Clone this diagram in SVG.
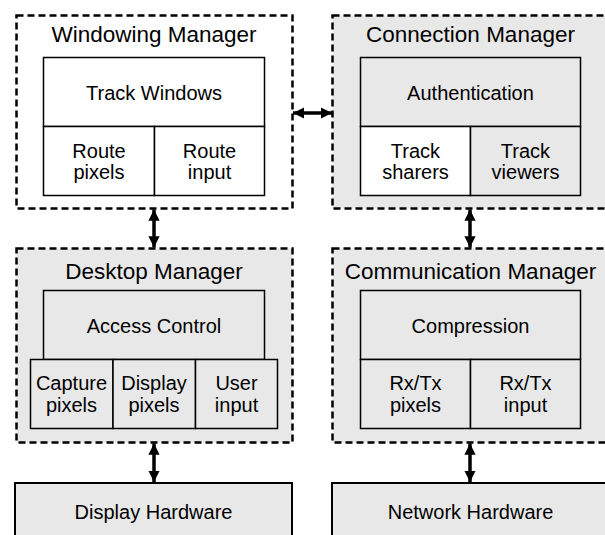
<svg xmlns="http://www.w3.org/2000/svg" width="605" height="535" viewBox="0 0 605 535">
<defs>
<style>
.mgr{stroke:#000;stroke-width:2.5;stroke-dasharray:7,4}
.box{stroke:#000;stroke-width:1.5}
.hw{stroke:#000;stroke-width:2}
.g{fill:#e8e8e8}
.w{fill:#fff}
.t{font-family:"Liberation Sans",Arial,sans-serif;fill:#000;text-anchor:middle}
.title{font-size:22.5px}
.lbl{font-size:20px}
.conn{stroke:#000;stroke-width:3.5;fill:none}
</style>
<marker id="ah" viewBox="0 0 10 10" refX="10" refY="5" markerWidth="3.2" markerHeight="3.2" orient="auto-start-reverse" markerUnits="strokeWidth">
<path d="M0,0 L10,5 L0,10 Z" fill="#000"/>
</marker>
</defs>
<rect width="605" height="535" fill="#fff"/>

<g id="windowing-manager">
<rect class="mgr w" x="16.5" y="15.5" width="276" height="193"/>
<text class="t title" x="154" y="42">Windowing Manager</text>
<rect class="box w" x="43.5" y="57.5" width="221" height="69"/>
<text class="t lbl" x="154" y="100">Track Windows</text>
<rect class="box w" x="43.5" y="126.5" width="111" height="69"/>
<rect class="box w" x="154.5" y="126.5" width="110" height="69"/>
<text class="t lbl" x="99" y="158">Route</text>
<text class="t lbl" x="99" y="179">pixels</text>
<text class="t lbl" x="209.5" y="158">Route</text>
<text class="t lbl" x="209.5" y="179">input</text>
</g>

<g id="connection-manager">
<rect class="mgr g" x="332.5" y="15.5" width="276" height="193"/>
<text class="t title" x="470.5" y="42">Connection Manager</text>
<rect class="box g" x="360.5" y="57.5" width="220" height="69"/>
<text class="t lbl" x="470.5" y="100">Authentication</text>
<rect class="box w" x="360.5" y="126.5" width="110" height="69"/>
<rect class="box g" x="470.5" y="126.5" width="110" height="69"/>
<text class="t lbl" x="415.5" y="158">Track</text>
<text class="t lbl" x="415.5" y="179">sharers</text>
<text class="t lbl" x="525.5" y="158">Track</text>
<text class="t lbl" x="525.5" y="179">viewers</text>
</g>

<g id="desktop-manager">
<rect class="mgr g" x="16.5" y="248.5" width="276" height="194"/>
<text class="t title" x="154" y="279">Desktop Manager</text>
<rect class="box g" x="43.5" y="290.5" width="221" height="69"/>
<text class="t lbl" x="154" y="333">Access Control</text>
<rect class="box g" x="30.5" y="359.5" width="82.5" height="69"/>
<rect class="box g" x="113" y="359.5" width="82.5" height="69"/>
<rect class="box g" x="195.5" y="359.5" width="82" height="69"/>
<text class="t lbl" x="71.5" y="390">Capture</text>
<text class="t lbl" x="71.5" y="412">pixels</text>
<text class="t lbl" x="154" y="390">Display</text>
<text class="t lbl" x="154" y="412">pixels</text>
<text class="t lbl" x="236.5" y="390">User</text>
<text class="t lbl" x="236.5" y="412">input</text>
</g>

<g id="communication-manager">
<rect class="mgr g" x="332.5" y="248.5" width="276" height="194"/>
<text class="t title" x="470.5" y="279">Communication Manager</text>
<rect class="box g" x="360.5" y="290.5" width="220" height="69"/>
<text class="t lbl" x="470.5" y="333">Compression</text>
<rect class="box g" x="360.5" y="359.5" width="110" height="69"/>
<rect class="box g" x="470.5" y="359.5" width="110" height="69"/>
<text class="t lbl" x="415.5" y="390">Rx/Tx</text>
<text class="t lbl" x="415.5" y="412">pixels</text>
<text class="t lbl" x="525.5" y="390">Rx/Tx</text>
<text class="t lbl" x="525.5" y="412">input</text>
</g>

<g id="display-hardware">
<rect class="hw g" x="15" y="483" width="277" height="70"/>
<text class="t lbl" x="153.5" y="519">Display Hardware</text>
</g>

<g id="network-hardware">
<rect class="hw g" x="332" y="483" width="280" height="70"/>
<text class="t lbl" x="470.5" y="519">Network Hardware</text>
</g>

<g id="connectors">
<line class="conn" x1="293" y1="113" x2="332" y2="113" marker-start="url(#ah)" marker-end="url(#ah)"/>
<line class="conn" x1="154" y1="209.5" x2="154" y2="247.5" marker-start="url(#ah)" marker-end="url(#ah)"/>
<line class="conn" x1="470" y1="209.5" x2="470" y2="247.5" marker-start="url(#ah)" marker-end="url(#ah)"/>
<line class="conn" x1="154" y1="443.5" x2="154" y2="482" marker-start="url(#ah)" marker-end="url(#ah)"/>
<line class="conn" x1="470" y1="443.5" x2="470" y2="482" marker-start="url(#ah)" marker-end="url(#ah)"/>
</g>
</svg>
